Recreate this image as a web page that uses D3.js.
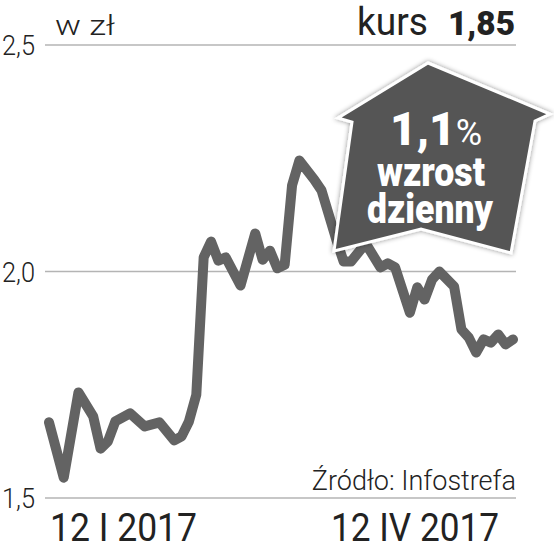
<!DOCTYPE html>
<html>
<head>
<meta charset="utf-8">
<script src="https://cdnjs.cloudflare.com/ajax/libs/d3/7.8.5/d3.min.js"></script>
<style>
  body { margin: 0; background: #fff; }
  text { font-family: Roboto, "Noto Sans", sans-serif; fill: #222; }
</style>
</head>
<body>
<div id="chart"></div>
<script>
// sessions from 12 I 2017 to 12 IV 2017 (index of the trading day) and the price in zl
var sessions = [0, 2, 4, 6, 7, 8, 9, 11, 13, 15, 17, 18, 19, 20, 21, 22, 23, 24, 26, 28, 29, 30, 31, 32, 33, 34, 36, 37, 39, 40, 41, 43, 45, 46, 47, 49, 50, 51, 52, 53, 55, 56, 57, 58, 59, 60, 61, 62, 63];
var prices = [1.667, 1.545, 1.733, 1.680, 1.609, 1.625, 1.669, 1.687, 1.658, 1.667, 1.627, 1.636, 1.669, 1.728, 2.031, 2.066, 2.024, 2.031, 1.969, 2.084, 2.026, 2.046, 2.007, 2.015, 2.190, 2.245, 2.203, 2.179, 2.071, 2.022, 2.022, 2.062, 2.009, 2.018, 2.009, 1.909, 1.965, 1.938, 1.982, 2.000, 1.967, 1.872, 1.854, 1.821, 1.850, 1.843, 1.861, 1.839, 1.850];
var yTicks = [1.5, 2.0, 2.5];
var dateLabels = ["12 I 2017", "12 IV 2017"];
var lastPrice = "1,85";
var change = "1,1";

var data = sessions.map(function (s, i) {
    return { s: s, v: prices[i] };
});

var width = 554,
    height = 549;

// set the ranges
var x = d3.scaleLinear().domain([0, 63]).range([49, 513]);
var y = d3.scaleLinear().domain([1.5, 2.5]).range([498, 45]);

var svg = d3.select("#chart").append("svg")
    .attr("width", width)
    .attr("height", height);

var defs = svg.append("defs");
var shadow = defs.append("filter")
    .attr("id", "shadow")
    .attr("x", "-20%").attr("y", "-20%")
    .attr("width", "140%").attr("height", "140%");
shadow.append("feDropShadow")
    .attr("dx", 0).attr("dy", 0)
    .attr("stdDeviation", 2.5)
    .attr("flood-color", "#000")
    .attr("flood-opacity", 0.45);

// grid lines and tick labels
svg.selectAll(".grid")
    .data(yTicks)
    .enter().append("line")
    .attr("class", "grid")
    .attr("x1", 45)
    .attr("x2", 516)
    .attr("y1", function (d) { return y(d); })
    .attr("y2", function (d) { return y(d); })
    .style("stroke", "#b4b4b4")
    .style("stroke-width", 1.6);

svg.selectAll(".tick-label")
    .data(yTicks)
    .enter().append("text")
    .attr("class", "tick-label")
    .attr("x", 2)
    .attr("y", function (d) { return y(d) + 10; })
    .attr("textLength", 33)
    .attr("lengthAdjust", "spacingAndGlyphs")
    .style("font-size", "27px")
    .style("font-weight", 300)
    .text(function (d) { return d3.format(".1f")(d).replace(".", ","); });

// the price line
var valueline = d3.line()
    .x(function (d) { return x(d.s); })
    .y(function (d) { return y(d.v); });

svg.append("path")
    .datum(data)
    .attr("d", valueline)
    .style("fill", "none")
    .style("stroke", "#636363")
    .style("stroke-width", 10)
    .style("stroke-linejoin", "round")
    .style("stroke-linecap", "round");

// header
svg.append("text")
    .attr("x", 55).attr("y", 35)
    .attr("textLength", 60)
    .attr("lengthAdjust", "spacingAndGlyphs")
    .style("font-size", "28px")
    .style("font-weight", 300)
    .text("w zł");

svg.append("text")
    .attr("x", 357).attr("y", 35)
    .attr("textLength", 71)
    .attr("lengthAdjust", "spacingAndGlyphs")
    .style("font-size", "38px")
    .text("kurs");

svg.append("text")
    .attr("x", 448).attr("y", 35)
    .attr("textLength", 67)
    .attr("lengthAdjust", "spacingAndGlyphs")
    .style("font-size", "34px")
    .style("font-weight", 900)
    .text(lastPrice);

// badge with the daily change
var badge = svg.append("g");
badge.append("polygon")
    .attr("points", "428,63 550,114 535,121 511,253 421,229 334,251 352,122 338,118")
    .style("fill", "#555")
    .style("stroke", "#fff")
    .style("stroke-width", 3)
    .style("stroke-linejoin", "miter")
    .attr("filter", "url(#shadow)");

var pct = badge.append("text")
    .attr("x", 390).attr("y", 145)
    .style("fill", "#fff");
pct.append("tspan")
    .style("fill", "#fff")
    .style("font-weight", 900)
    .style("font-size", "46px")
    .text(change);
pct.append("tspan")
    .style("fill", "#fff")
    .style("font-weight", 400)
    .style("font-size", "36px")
    .text("%");

badge.append("text")
    .attr("x", 377).attr("y", 186)
    .attr("textLength", 108)
    .attr("lengthAdjust", "spacingAndGlyphs")
    .style("fill", "#fff")
    .style("font-size", "41px")
    .style("font-weight", 900)
    .text("wzrost");

badge.append("text")
    .attr("x", 367).attr("y", 223)
    .attr("textLength", 126)
    .attr("lengthAdjust", "spacingAndGlyphs")
    .style("fill", "#fff")
    .style("font-size", "41px")
    .style("font-weight", 900)
    .text("dzienny");

// source
svg.append("text")
    .attr("x", 516).attr("y", 490)
    .attr("text-anchor", "end")
    .style("font-size", "27px")
    .style("font-weight", 300)
    .text("Źródło: Infostrefa");

// dates under the axis
svg.append("text")
    .attr("x", 50).attr("y", 541)
    .attr("textLength", 147)
    .attr("lengthAdjust", "spacingAndGlyphs")
    .style("font-size", "38px")
    .text(dateLabels[0]);

svg.append("text")
    .attr("x", 331).attr("y", 541)
    .attr("textLength", 168)
    .attr("lengthAdjust", "spacingAndGlyphs")
    .style("font-size", "38px")
    .text(dateLabels[1]);
</script>
</body>
</html>
